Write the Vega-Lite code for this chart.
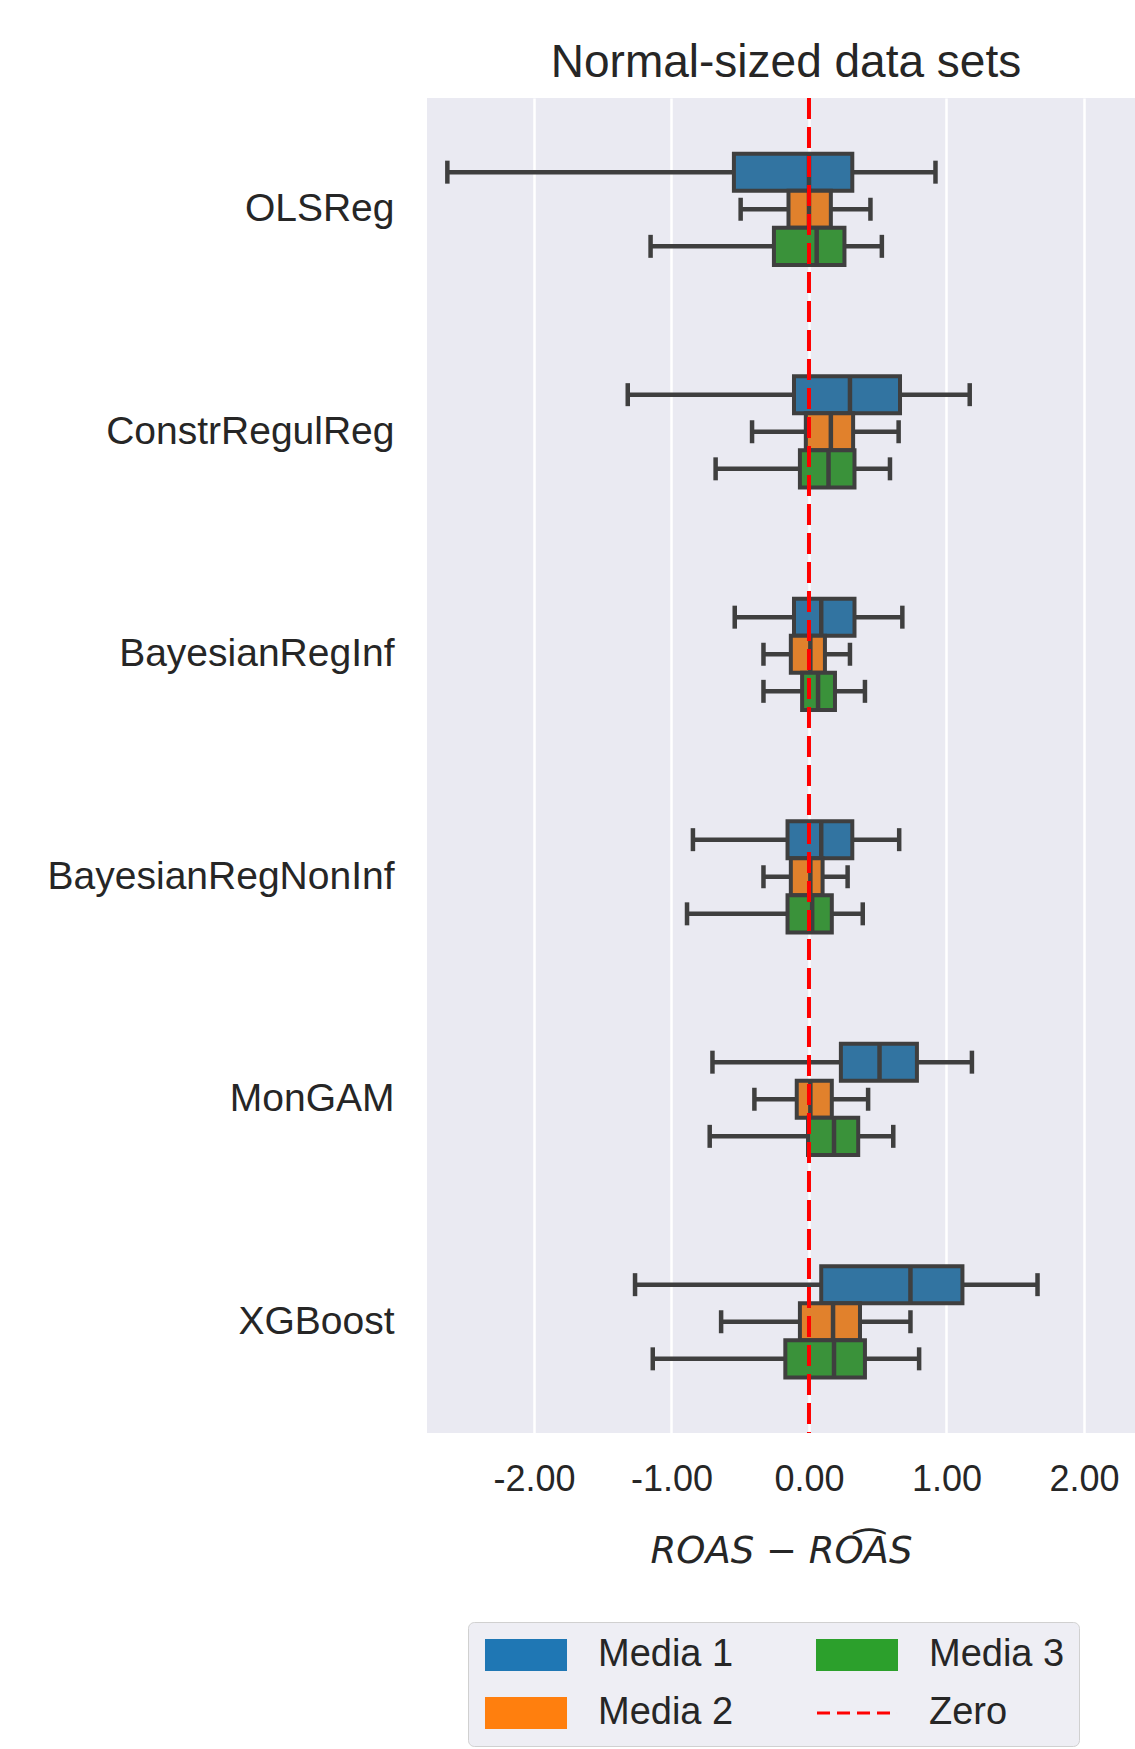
{
  "$schema": "https://vega.github.io/schema/vega-lite/v6.json",
  "autosize": {"type": "none"},
  "padding": {"left": 427, "top": 98, "right": 0, "bottom": 316},
  "width": 708,
  "height": 1335,
  "background": "white",
  "title": {
    "text": "Normal-sized data sets",
    "font": "Liberation Sans",
    "fontSize": 46,
    "fontWeight": "normal",
    "color": "#262626",
    "anchor": "middle",
    "baseline": "alphabetic",
    "offset": -27,
    "dx": 5
  },
  "config": {
    "view": {"stroke": null, "fill": "#eaeaf2"},
    "axis": {"labelFont": "Liberation Sans", "labelColor": "#262626", "ticks": false, "domain": false}
  },
  "data": {
    "values": [
      {"method": "OLSReg", "media": "Media 1", "lo": -2.63, "q1": -0.546, "med": 0.0, "q3": 0.315, "hi": 0.92},
      {"method": "OLSReg", "media": "Media 2", "lo": -0.497, "q1": -0.149, "med": 0.0, "q3": 0.159, "hi": 0.447},
      {"method": "OLSReg", "media": "Media 3", "lo": -1.152, "q1": -0.255, "med": 0.056, "q3": 0.258, "hi": 0.53},
      {"method": "ConstrRegulReg", "media": "Media 1", "lo": -1.318, "q1": -0.109, "med": 0.298, "q3": 0.662, "hi": 1.169},
      {"method": "ConstrRegulReg", "media": "Media 2", "lo": -0.414, "q1": -0.023, "med": 0.159, "q3": 0.321, "hi": 0.652},
      {"method": "ConstrRegulReg", "media": "Media 3", "lo": -0.679, "q1": -0.066, "med": 0.142, "q3": 0.331, "hi": 0.589},
      {"method": "BayesianRegInf", "media": "Media 1", "lo": -0.54, "q1": -0.109, "med": 0.089, "q3": 0.331, "hi": 0.679},
      {"method": "BayesianRegInf", "media": "Media 2", "lo": -0.331, "q1": -0.132, "med": 0.01, "q3": 0.116, "hi": 0.298},
      {"method": "BayesianRegInf", "media": "Media 3", "lo": -0.331, "q1": -0.05, "med": 0.066, "q3": 0.189, "hi": 0.407},
      {"method": "BayesianRegNonInf", "media": "Media 1", "lo": -0.844, "q1": -0.156, "med": 0.089, "q3": 0.315, "hi": 0.656},
      {"method": "BayesianRegNonInf", "media": "Media 2", "lo": -0.331, "q1": -0.132, "med": 0.01, "q3": 0.099, "hi": 0.281},
      {"method": "BayesianRegNonInf", "media": "Media 3", "lo": -0.887, "q1": -0.156, "med": 0.023, "q3": 0.166, "hi": 0.391},
      {"method": "MonGAM", "media": "Media 1", "lo": -0.702, "q1": 0.232, "med": 0.513, "q3": 0.785, "hi": 1.185},
      {"method": "MonGAM", "media": "Media 2", "lo": -0.397, "q1": -0.089, "med": 0.01, "q3": 0.166, "hi": 0.43},
      {"method": "MonGAM", "media": "Media 3", "lo": -0.722, "q1": -0.007, "med": 0.182, "q3": 0.358, "hi": 0.613},
      {"method": "XGBoost", "media": "Media 1", "lo": -1.265, "q1": 0.089, "med": 0.738, "q3": 1.116, "hi": 1.662},
      {"method": "XGBoost", "media": "Media 2", "lo": -0.639, "q1": -0.066, "med": 0.175, "q3": 0.371, "hi": 0.738},
      {"method": "XGBoost", "media": "Media 3", "lo": -1.136, "q1": -0.172, "med": 0.182, "q3": 0.407, "hi": 0.801}
    ]
  },
  "encoding": {
    "y": {
      "field": "method",
      "type": "nominal",
      "sort": ["OLSReg", "ConstrRegulReg", "BayesianRegInf", "BayesianRegNonInf", "MonGAM", "XGBoost"],
      "scale": {"paddingInner": 0, "paddingOuter": 0},
      "axis": {"title": null, "labelFontSize": 39, "labelPadding": 33, "labelLimit": 0, "grid": false}
    },
    "yOffset": {
      "field": "media",
      "type": "nominal",
      "scale": {"domain": ["_a", "Media 1", "Media 2", "Media 3", "_b"], "paddingInner": 0, "paddingOuter": 0.5}
    }
  },
  "layer": [
    {
      "mark": {"type": "rule", "color": "#3f3f3f", "strokeWidth": 4.5},
      "encoding": {
        "x": {
          "field": "lo",
          "type": "quantitative",
          "scale": {"domain": [-2.778, 2.371], "nice": false, "zero": false},
          "axis": {
            "values": [-2, -1, 0, 1, 2],
            "labelExpr": "datum.value < 0 ? '-' + format(-datum.value, '.2f') : format(datum.value, '.2f')",
            "grid": true,
            "gridColor": "white",
            "gridWidth": 2.5,
            "labelFontSize": 36,
            "labelPadding": 29,
            "title": "ROAS − RO͡AS",
            "titleFont": "DejaVu Sans",
            "titleFontStyle": "italic",
            "titleFontWeight": "normal",
            "titleFontSize": 37,
            "titleColor": "#262626",
            "titlePadding": 36
          }
        },
        "x2": {"field": "hi"}
      }
    },
    {
      "mark": {"type": "tick", "color": "#3f3f3f", "size": 23, "thickness": 4.5, "opacity": 1},
      "encoding": {"x": {"field": "lo", "type": "quantitative"}}
    },
    {
      "mark": {"type": "tick", "color": "#3f3f3f", "size": 23, "thickness": 4.5, "opacity": 1},
      "encoding": {"x": {"field": "hi", "type": "quantitative"}}
    },
    {
      "mark": {"type": "bar", "stroke": "#3f3f3f", "strokeWidth": 4, "opacity": 1},
      "encoding": {
        "x": {"field": "q1", "type": "quantitative"},
        "x2": {"field": "q3"},
        "fill": {
          "field": "media",
          "type": "nominal",
          "scale": {"domain": ["Media 1", "Media 2", "Media 3"], "range": ["#3274a1", "#e1812c", "#3a923a"]},
          "legend": null
        }
      }
    },
    {
      "mark": {"type": "tick", "color": "#3f3f3f", "size": 37, "thickness": 4.5, "opacity": 1},
      "encoding": {"x": {"field": "med", "type": "quantitative"}}
    },
    {
      "data": {"values": [{"label": "Zero", "v": 0}]},
      "mark": {"type": "rule", "strokeWidth": 4, "strokeDash": [21, 8]},
      "encoding": {
        "y": null,
        "yOffset": null,
        "x": {"field": "v", "type": "quantitative"},
        "stroke": {
          "field": "label",
          "type": "nominal",
          "scale": {"domain": ["Media 1", "Media 2", "Media 3", "Zero"], "range": ["#1f77b4", "#ff7f0e", "#2ca02c", "#ff0000"]},
          "legend": {
            "title": null,
            "orient": "none",
            "legendX": 41,
            "legendY": 1524,
            "columns": 2,
            "symbolSize": 900,
            "symbolOffset": 25,
            "labelOffset": 53,
            "labelFont": "Liberation Sans",
            "labelFontSize": 38,
            "labelColor": "#262626",
            "columnPadding": 76,
            "rowPadding": 20,
            "padding": 14,
            "fillColor": "#eeeef4",
            "strokeColor": "#d0d0d0",
            "cornerRadius": 6,
            "encode": {
              "symbols": {
                "update": {
                  "shape": {"signal": "datum.value === 'Zero' ? 'M-2.667,0H2.667' : 'M-2.667,-1H2.667V1H-2.667Z'"},
                  "fill": {"signal": "datum.value === 'Media 1' ? '#1f77b4' : datum.value === 'Media 2' ? '#ff7f0e' : datum.value === 'Media 3' ? '#2ca02c' : 'transparent'"},
                  "stroke": {"signal": "datum.value === 'Zero' ? '#ff0000' : '#333333'"},
                  "strokeWidth": {"signal": "datum.value === 'Zero' ? 3 : 2"},
                  "strokeDash": {"signal": "datum.value === 'Zero' ? [13, 7] : [1, 0]"},
                  "opacity": {"value": 1}
                }
              }
            }
          }
        }
      }
    }
  ]
}
